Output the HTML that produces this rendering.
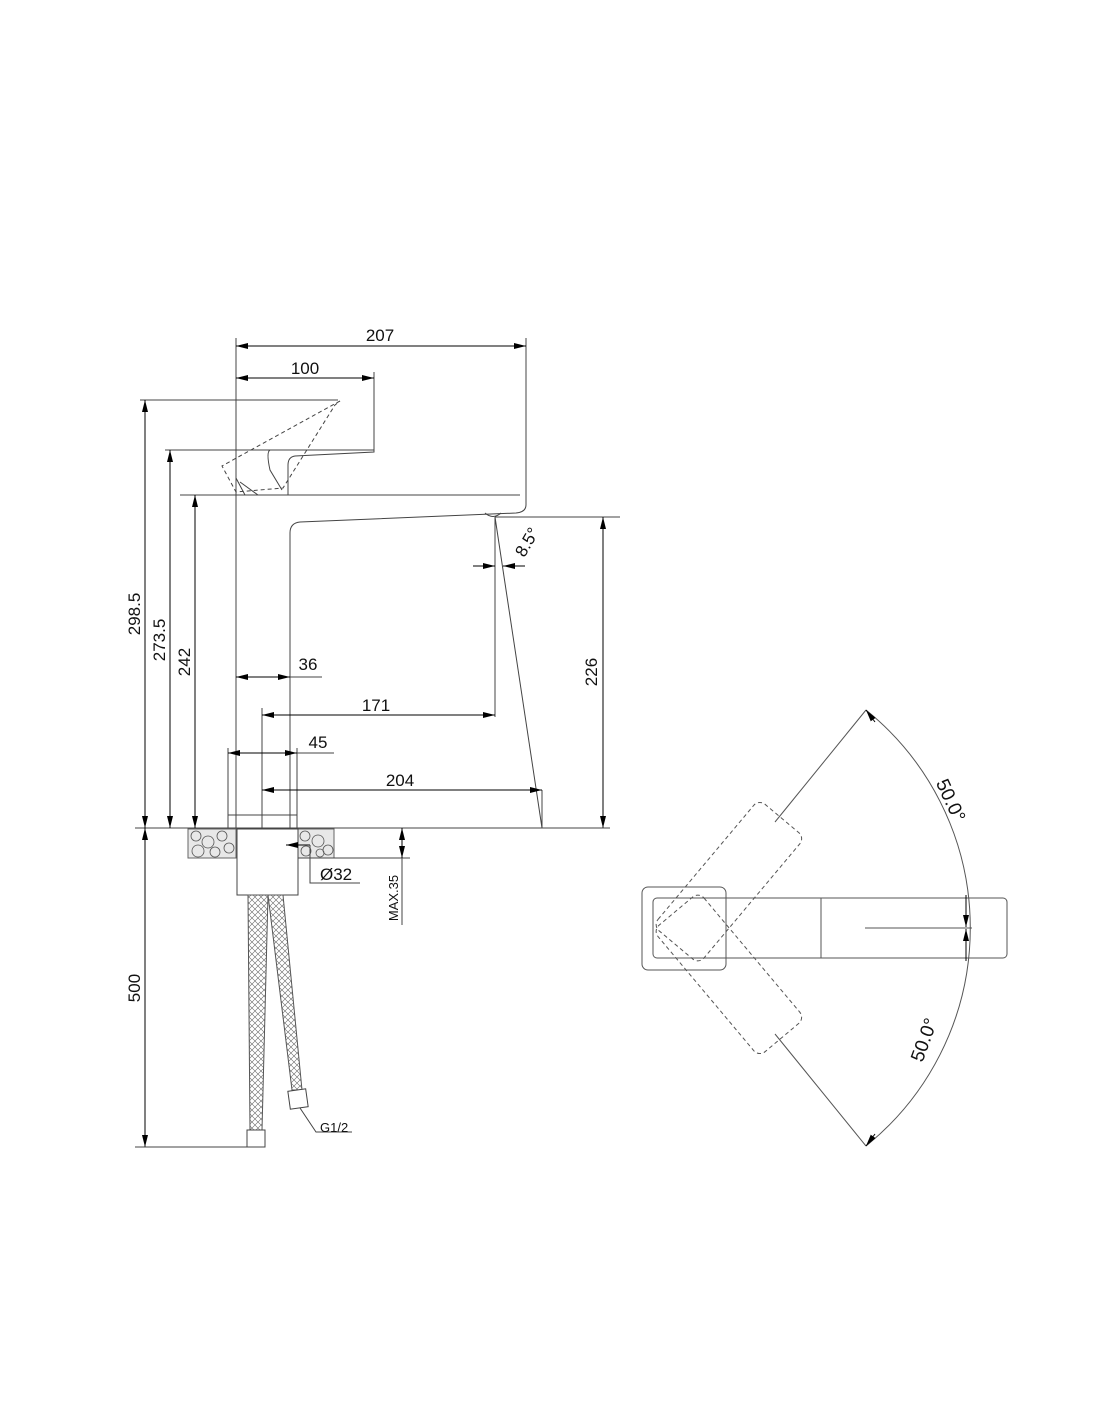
<!DOCTYPE html>
<html><head><meta charset="utf-8"><style>
html,body{margin:0;padding:0;background:#fff}
svg{display:block}
text{font-family:"Liberation Sans",Arial,sans-serif;fill:#111;font-size:17px}
</style></head><body>
<svg width="1100" height="1422" viewBox="0 0 1100 1422" xmlns="http://www.w3.org/2000/svg">
<defs>
<marker id="a" viewBox="0 0 12 6" refX="12" refY="3" markerWidth="12" markerHeight="6" orient="auto-start-reverse" markerUnits="userSpaceOnUse"><path d="M0,0 L12,3 L0,6 z" fill="#000"/></marker>
<pattern id="mesh" width="6" height="6" patternUnits="userSpaceOnUse"><path d="M0,0 L6,6 M6,0 L0,6" stroke="#666" stroke-width="0.6"/></pattern>
</defs>
<g stroke="#444" stroke-width="1" fill="none">
<line x1="236" y1="338" x2="236" y2="828"/>
<line x1="526" y1="338" x2="526" y2="495"/>
<line x1="374" y1="372" x2="374" y2="452"/>
<line x1="236" y1="346" x2="526" y2="346" marker-start="url(#a)" marker-end="url(#a)" stroke="#000"/>
<line x1="236" y1="378" x2="374" y2="378" marker-start="url(#a)" marker-end="url(#a)" stroke="#000"/>
<line x1="140" y1="400" x2="338" y2="400"/>
<line x1="165" y1="450" x2="374" y2="450"/>
<path d="M374,450 L374,452 L295,456 Q288,457 288,465 L288,495"/>
<path d="M270,450 Q266,452 270,470 L282,490" />
<path d="M236,478 L245,495 M240,482 L258,495"/>
<path d="M340,401 L240,456 L222,466 L236,492 L283,488 L335,405 Z" stroke-dasharray="4,3"/>
<line x1="180" y1="495" x2="520" y2="495"/>
<path d="M526,495 L526,505 Q526,512 516,513 L300,522 Q290,523 290,533 L290,828"/>
<path d="M485,513 Q493,520 501,513"/>
<line x1="495" y1="517" x2="620" y2="517"/>
<line x1="495" y1="517" x2="495" y2="717"/>
<line x1="495" y1="517" x2="542" y2="828"/>
<line x1="542" y1="790" x2="542" y2="828"/>
<line x1="473" y1="566" x2="495" y2="566" marker-end="url(#a)" stroke="#000"/>
<line x1="525" y1="566" x2="503" y2="566" marker-end="url(#a)" stroke="#000"/>
<line x1="603" y1="517" x2="603" y2="828" marker-start="url(#a)" marker-end="url(#a)" stroke="#000"/>
<line x1="135" y1="828" x2="610" y2="828"/>
<rect x="228" y="815" width="69" height="13"/>
<line x1="228" y1="748" x2="228" y2="815"/>
<line x1="297" y1="748" x2="297" y2="815"/>
<line x1="262" y1="708" x2="262" y2="828"/>
<line x1="236" y1="677" x2="290" y2="677" marker-start="url(#a)" marker-end="url(#a)" stroke="#000"/>
<line x1="290" y1="677" x2="322" y2="677"/>
<line x1="262" y1="715" x2="495" y2="715" marker-start="url(#a)" marker-end="url(#a)" stroke="#000"/>
<line x1="228" y1="753" x2="297" y2="753" marker-start="url(#a)" marker-end="url(#a)" stroke="#000"/>
<line x1="297" y1="753" x2="334" y2="753"/>
<line x1="262" y1="790" x2="542" y2="790" marker-start="url(#a)" marker-end="url(#a)" stroke="#000"/>
<line x1="145" y1="400" x2="145" y2="828" marker-start="url(#a)" marker-end="url(#a)" stroke="#000"/>
<line x1="170" y1="450" x2="170" y2="828" marker-start="url(#a)" marker-end="url(#a)" stroke="#000"/>
<line x1="195" y1="495" x2="195" y2="828" marker-start="url(#a)" marker-end="url(#a)" stroke="#000"/>
<line x1="145" y1="828" x2="145" y2="1147" marker-start="url(#a)" marker-end="url(#a)" stroke="#000"/>
<line x1="135" y1="1147" x2="250" y2="1147"/>
<rect x="188" y="829" width="48" height="29" fill="#e8e8e8" stroke="#666"/>
<rect x="298" y="829" width="36" height="29" fill="#e8e8e8" stroke="#666"/>
<g stroke="#555" stroke-width="0.8">
<circle cx="196" cy="836" r="5"/><circle cx="208" cy="842" r="6"/><circle cx="222" cy="836" r="5"/><circle cx="198" cy="851" r="6"/><circle cx="215" cy="852" r="5"/><circle cx="229" cy="848" r="5"/>
<circle cx="305" cy="836" r="5"/><circle cx="318" cy="841" r="6"/><circle cx="328" cy="850" r="5"/><circle cx="306" cy="851" r="5"/><circle cx="320" cy="853" r="4"/>
</g>
<rect x="237" y="829" width="61" height="66"/>
<line x1="298" y1="858" x2="335" y2="858"/>
<line x1="310" y1="845" x2="286" y2="845" marker-end="url(#a)" stroke="#000"/>
<path d="M310,845 L310,883 L360,883"/>
<line x1="335" y1="858" x2="410" y2="858"/>
<line x1="402" y1="828" x2="402" y2="858" marker-start="url(#a)" marker-end="url(#a)" stroke="#000"/>
<line x1="402" y1="858" x2="402" y2="925"/>
<path d="M248,895 L268,895 L262,1130 L250,1130 Z" fill="url(#mesh)" stroke="#555"/>
<path d="M268,895 L283,895 L302,1090 L292,1090 Z" fill="url(#mesh)" stroke="#555"/>
<rect x="247" y="1130" width="18" height="17" fill="#fff"/>
<rect x="289" y="1090" width="18" height="18" fill="#fff" transform="rotate(-8 298 1099)"/>
<path d="M300,1108 L316,1132 L352,1132"/>
</g>
<text x="380" y="341" text-anchor="middle">207</text>
<text x="305" y="374" text-anchor="middle">100</text>
<text x="308" y="670" text-anchor="middle">36</text>
<text x="376" y="711" text-anchor="middle">171</text>
<text x="318" y="748" text-anchor="middle">45</text>
<text x="400" y="786" text-anchor="middle">204</text>
<text x="320" y="880">Ø32</text>
<text x="320" y="1132" style="font-size:13px">G1/2</text>
<text transform="translate(140,614) rotate(-90)" text-anchor="middle">298.5</text>
<text transform="translate(165,640) rotate(-90)" text-anchor="middle">273.5</text>
<text transform="translate(190,662) rotate(-90)" text-anchor="middle">242</text>
<text transform="translate(140,988) rotate(-90)" text-anchor="middle">500</text>
<text transform="translate(597,672) rotate(-90)" text-anchor="middle">226</text>
<text transform="translate(398,898) rotate(-90)" text-anchor="middle" style="font-size:13px">MAX.35</text>
<text transform="translate(532,545) rotate(-60)" text-anchor="middle">8.5°</text>
<g stroke="#555" stroke-width="1" fill="none">
<rect x="642" y="887" width="84" height="83" rx="6"/>
<rect x="653" y="898" width="354" height="60" rx="4"/>
<line x1="821" y1="898" x2="821" y2="958"/>
<line x1="865" y1="928" x2="972" y2="928"/>
<path d="M866,710 A280,280 0 0 1 866,1146"/>
<line x1="775" y1="822" x2="866" y2="710"/>
<line x1="775" y1="1034" x2="866" y2="1146"/>
<g stroke-dasharray="4,3">
<rect x="668" y="898" width="165" height="60" rx="8" transform="rotate(-50 690 928)"/>
<rect x="668" y="898" width="165" height="60" rx="8" transform="rotate(50 690 928)"/>
</g>
</g>
<line x1="875" y1="722" x2="866" y2="710" stroke="#000" marker-end="url(#a)"/>
<line x1="875" y1="1134" x2="866" y2="1146" stroke="#000" marker-end="url(#a)"/>
<line x1="966" y1="895" x2="966" y2="927" stroke="#000" marker-end="url(#a)"/>
<line x1="966" y1="961" x2="966" y2="929" stroke="#000" marker-end="url(#a)"/>
<text transform="translate(945,803) rotate(65)" text-anchor="middle" style="font-size:19px">50.0°</text>
<text transform="translate(930,1042) rotate(-70)" text-anchor="middle" style="font-size:19px">50.0°</text>
</svg>
</body></html>
